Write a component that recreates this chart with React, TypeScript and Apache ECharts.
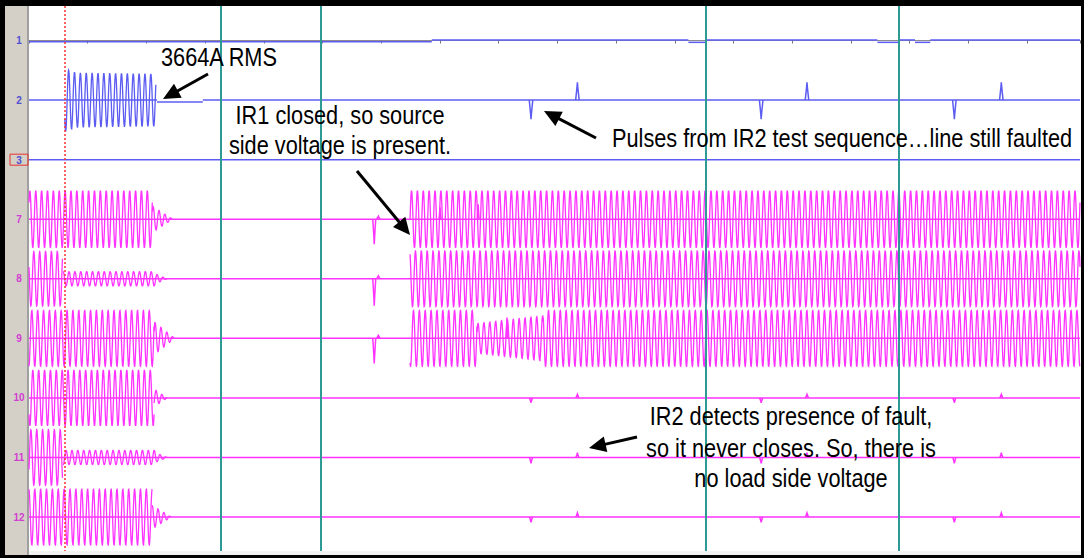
import { useEffect, useRef } from "react";
import * as echarts from "echarts";

// Channel rows (top to bottom)
const channelNames = ["1", "2", "3", "7", "8", "9", "10", "11", "12"];
const channelPhase = [0, 0.5, 0, 0.1, 0.43, 0.77, 0.6, 0.93, 0.27]; // cycles
const blueTrace = "#5c5cf2";
const magentaTrace = "#ff33ff";
const channelColors = [blueTrace, blueTrace, blueTrace, magentaTrace, magentaTrace, magentaTrace, magentaTrace, magentaTrace, magentaTrace];
const labelColors = ["#4f4fd0", "#4f4fd0", "#4f4fd0", "#d23cd2", "#d23cd2", "#d23cd2", "#d23cd2", "#d23cd2", "#d23cd2"];

// Time in cycles (60 Hz). Flat trace levels: [channel, tStart, tEnd, offset]
const levelSegments = [
  [0, 0, 68.6, -0.02], [0, 68.6, 112.3, 0.01], [0, 112.3, 115.4, -0.03], [0, 115.4, 144.5, 0.01],
  [0, 144.5, 148.2, -0.03], [0, 148.2, 150.9, 0.01], [0, 150.9, 153.5, -0.03], [0, 153.5, 179, 0.01],
  [1, 0, 21.8, 0], [1, 21.8, 29.6, -0.03], [1, 29.6, 179, 0],
  [2, 0, 179, 0],
  [3, 0, 179, 0], [4, 0, 179, 0], [5, 0, 179, 0],
  [6, 0, 179, 0], [7, 0, 179, 0], [8, 0, 179, 0],
];

// Oscillation envelopes: [channel, tStart, tEnd, ampStart, ampEnd]
const oscSegments = [
  [1, 6.1, 8.0, 0.53, 0.46], [1, 8.0, 21.6, 0.46, 0.44],
  [3, 0, 21.0, 0.48, 0.48], [3, 21.0, 24.5, 0.22, 0],
  [4, 0, 5.7, 0.46, 0.46], [4, 5.8, 21.6, 0.12, 0.12], [4, 21.6, 23.5, 0.08, 0],
  [5, 0, 21.3, 0.47, 0.47], [5, 21.3, 24.8, 0.28, 0],
  [6, 0, 21.3, 0.47, 0.47], [6, 21.3, 23.5, 0.15, 0],
  [7, 0, 5.7, 0.47, 0.47], [7, 5.8, 21.6, 0.12, 0.12], [7, 21.6, 23.5, 0.08, 0],
  [8, 0, 21.0, 0.47, 0.47], [8, 21.0, 24.2, 0.2, 0],
  [3, 64.9, 179, 0.48, 0.48],
  [4, 64.9, 179, 0.47, 0.47],
  [5, 64.9, 76.3, 0.47, 0.47], [5, 76.3, 87.6, 0.25, 0.38], [5, 87.6, 179, 0.47, 0.47],
];

// Pulses / spikes: [channel, t, depth (positive = downward), width]
const pulseSegments = [
  [3, 58.8, 0.42, 0.5], [4, 58.8, 0.45, 0.5], [5, 58.8, 0.42, 0.5],
  [3, 59.5, -0.05, 0.6], [4, 59.5, -0.05, 0.6], [5, 59.5, -0.05, 0.6],
  [3, 70.0, -0.2, 0.3], [3, 76.5, -0.25, 0.3], [5, 81.4, -0.35, 0.3],
  [1, 85.5, 0.32, 0.6], [1, 93.4, -0.3, 0.6], [1, 124.7, 0.32, 0.6],
  [1, 132.5, -0.3, 0.6], [1, 157.6, 0.32, 0.6], [1, 165.6, -0.3, 0.6],
  [6, 85.5, 0.08, 0.5], [6, 93.4, -0.06, 0.5], [6, 124.7, 0.08, 0.5], [6, 132.5, -0.06, 0.5], [6, 157.6, 0.08, 0.5], [6, 165.6, -0.06, 0.5],
  [7, 85.5, 0.1, 0.5], [7, 93.4, -0.08, 0.5], [7, 124.7, 0.1, 0.5], [7, 132.5, -0.08, 0.5], [7, 157.6, 0.1, 0.5], [7, 165.6, -0.08, 0.5],
  [8, 85.5, 0.09, 0.5], [8, 93.4, -0.07, 0.5], [8, 124.7, 0.09, 0.5], [8, 132.5, -0.07, 0.5], [8, 157.6, 0.09, 0.5], [8, 165.6, -0.07, 0.5],
];

const cursorTimes = [32.7, 49.7, 115.3, 148.2];
const triggerTime = 6.13;

const noteLines = [
  { text: "3664A RMS", x: 161, base: 66, align: "left" },
  { text: "IR1 closed, so source", x: 340, base: 124, align: "center" },
  { text: "side voltage is present.", x: 340, base: 154, align: "center" },
  { text: "Pulses from IR2 test sequence\u2026line still faulted", x: 612, base: 147, align: "left" },
  { text: "IR2 detects presence of fault,", x: 791, base: 425, align: "center" },
  { text: "so it never closes. So, there is", x: 791, base: 457, align: "center" },
  { text: "no load side voltage", x: 791, base: 487, align: "center" },
];
const arrows = [
  [208, 74, 163, 99],
  [357, 171, 410, 235],
  [596, 138, 544, 111],
  [637, 437, 589, 448],
];

function arrowEls(a: number[]) {
  const [x1, y1, x2, y2] = a;
  const dx = x2 - x1, dy = y2 - y1;
  const L = Math.hypot(dx, dy);
  const ux = dx / L, uy = dy / L;
  const hl = 17, hw = 8;
  const bx = x2 - ux * hl, by = y2 - uy * hl;
  return [
    { type: "line", z: 100, shape: { x1, y1, x2: bx + ux * 2, y2: by + uy * 2 }, style: { stroke: "#000", lineWidth: 3 } },
    { type: "polygon", z: 100, shape: { points: [[x2, y2], [bx - uy * hw, by + ux * hw], [bx + uy * hw, by - ux * hw]] }, style: { fill: "#000" } },
  ];
}

export default function App() {
  const ref = useRef<HTMLDivElement>(null);
  useEffect(() => {
    if (!ref.current) return;
    const chart = echarts.init(ref.current, undefined, { renderer: "svg" });
    const textFont = '26px "Liberation Sans", Arial, sans-serif';
    const graphic: any[] = [
      { type: "rect", z: -10, shape: { x: 0, y: 0, width: 1084, height: 558 }, style: { fill: "#000" } },
      { type: "rect", z: -9, shape: { x: 5, y: 6, width: 1076, height: 549 }, style: { fill: "#fff" } },
      { type: "rect", z: -8, shape: { x: 5, y: 6, width: 22, height: 549 }, style: { fill: "#d4d0c8" } },
      { type: "line", z: -7, shape: { x1: 28, y1: 6, x2: 28, y2: 555 }, style: { stroke: "#a0a0a0", lineWidth: 2 } },
      { type: "rect", z: -7, shape: { x: 29, y: 551, width: 1052, height: 4 }, style: { fill: "#f2f2f2" } },
    ];
    noteLines.forEach((n) => {
      graphic.push({
        type: "text",
        z: 100,
        x: n.x,
        y: n.base - 9,
        scaleX: 0.836,
        style: {
          text: n.text,
          font: textFont,
          fill: "#000",
          textAlign: n.align,
          align: n.align,
          textVerticalAlign: "middle",
          verticalAlign: "middle",
        },
      });
    });
    arrows.forEach((a) => graphic.push(...arrowEls(a)));

    chart.setOption({
      animation: false,
      backgroundColor: "#000",
      grid: { left: 29, top: 6, width: 1051, height: 545 },
      xAxis: {
        type: "value",
        min: 0,
        max: 179,
        interval: 10,
        axisLine: { lineStyle: { color: "#8c8c8c", width: 1 } },
        axisTick: { show: true, length: 3, lineStyle: { color: "#777" } },
        axisLabel: { show: false },
        splitLine: { show: false },
      },
      yAxis: {
        type: "value",
        inverse: true,
        min: -0.58,
        max: 8.57,
        axisLine: { show: false },
        axisTick: { show: false },
        splitLine: { show: false },
        axisLabel: {
          show: true,
          customValues: [0, 1, 2, 3, 4, 5, 6, 7, 8],
          margin: 1,
          formatter: (v: number) => {
            const i = Math.round(v);
            const style = i === 2 ? "boxed" : "c" + i;
            return "{" + style + "|" + channelNames[i] + "}";
          },
          rich: Object.assign(
            {
              boxed: {
                width: 18, align: "center", color: labelColors[2], fontSize: 10, fontWeight: "bold",
                fontFamily: "Liberation Sans, Arial, sans-serif",
                borderColor: "#e83030", borderWidth: 1, padding: [1, 0, 0, 0], lineHeight: 11,
              },
            },
            Object.fromEntries(
              channelNames.map((_, i) => [
                "c" + i,
                { width: 18, align: "center", color: labelColors[i], fontSize: 10, fontWeight: "bold", fontFamily: "Liberation Sans, Arial, sans-serif" },
              ])
            )
          ),
        },
      },
      graphic,
      series: [
        {
          type: "custom",
          name: "levels",
          z: 3,
          data: levelSegments,
          encode: { x: [1, 2], y: 0 },
          renderItem: (_p: any, api: any) => {
            const ch = api.value(0);
            const off = api.value(3);
            const a = api.coord([api.value(1), ch - off]);
            const b = api.coord([api.value(2), ch - off]);
            return {
              type: "line",
              shape: { x1: a[0], y1: a[1], x2: b[0], y2: b[1] },
              style: { stroke: channelColors[ch], fill: "none", lineWidth: 1.5 },
            };
          },
        },
        {
          type: "custom",
          name: "waves",
          z: 4,
          data: oscSegments,
          encode: { x: [1, 2], y: 0 },
          renderItem: (_p: any, api: any) => {
            const ch = api.value(0);
            const t0 = api.value(1), t1 = api.value(2);
            const a0 = api.value(3), a1 = api.value(4);
            const ph = channelPhase[ch];
            const n = Math.max(2, Math.ceil((t1 - t0) * 20));
            const pts: number[][] = [];
            for (let k = 0; k <= n; k++) {
              const t = t0 + ((t1 - t0) * k) / n;
              const amp = a0 + ((a1 - a0) * k) / n;
              pts.push(api.coord([t, ch - amp * Math.sin(2 * Math.PI * (t + ph))]));
            }
            return { type: "polyline", shape: { points: pts }, style: { stroke: channelColors[ch], fill: "none", lineWidth: 1.3 } };
          },
        },
        {
          type: "custom",
          name: "pulses",
          z: 4,
          data: pulseSegments,
          encode: { x: 1, y: 0 },
          renderItem: (_p: any, api: any) => {
            const ch = api.value(0);
            const t = api.value(1), d = api.value(2), w = api.value(3);
            const pts = [
              api.coord([t - w / 2, ch]),
              api.coord([t - w / 8, ch + d * 0.7]),
              api.coord([t, ch + d]),
              api.coord([t + w / 8, ch + d * 0.7]),
              api.coord([t + w / 2, ch]),
            ];
            return { type: "polyline", shape: { points: pts }, style: { stroke: channelColors[ch], fill: "none", lineWidth: 1.5 } };
          },
        },
        {
          type: "line",
          name: "cursors",
          data: [],
          z: 10,
          markLine: {
            silent: true,
            symbol: "none",
            label: { show: false },
            data: [
              ...cursorTimes.map((t) => ({ xAxis: t, lineStyle: { color: "#2e9a96", width: 2, type: "solid" } })),
              { xAxis: triggerTime, lineStyle: { color: "#ff3030", width: 1.5, type: [2, 2], opacity: 1 } },
            ],
          },
        },
      ],
    });
    return () => chart.dispose();
  }, []);
  return <div ref={ref} style={{ position: "fixed", left: 0, top: 0, width: 1084, height: 558 }} />;
}
